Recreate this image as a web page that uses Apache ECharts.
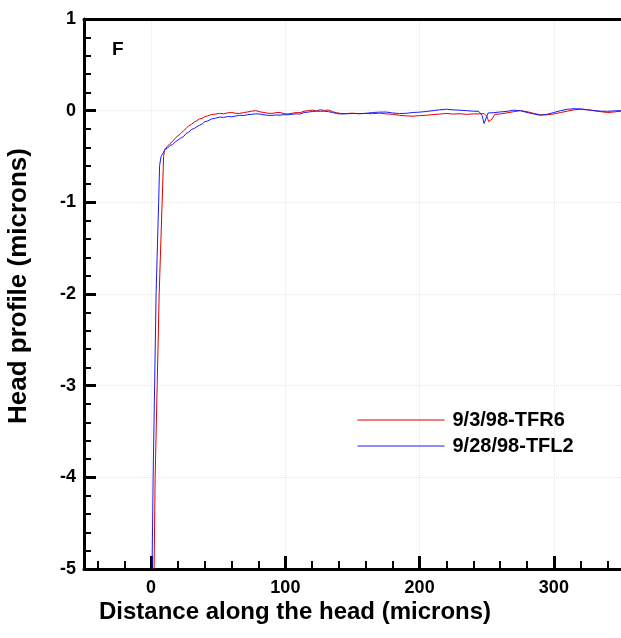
<!DOCTYPE html>
<html>
<head>
<meta charset="utf-8">
<script src="https://cdn.jsdelivr.net/npm/echarts@6/dist/echarts.min.js"></script>
<style>html,body{margin:0;padding:0;background:#fff}#c{width:621px;height:638px}</style>
</head>
<body>
<div id="c"></div>
<script>
var seriesNames = ['9/3/98-TFR6', '9/28/98-TFL2'];
var xMajorTicks = [0, 100, 200, 300];
var xMinorTicks = [-40, -20, 20, 40, 60, 80, 120, 140, 160, 180, 220, 240, 260, 280, 320, 340];
var yTicks = [-5, -4, -3, -2, -1, 0, 1];

var redX = [2.2, 3, 4.5, 6, 8.2, 9.3, 10, 11, 12, 14, 16, 18, 20, 22, 24, 26, 28, 30, 32, 34, 36, 38, 40, 42, 45, 48, 51, 54, 57, 60, 63, 66, 69, 72, 75, 78, 81, 84, 87, 90, 93, 96, 99, 102, 105, 108, 111, 114, 117, 120, 123, 126, 129, 132, 135, 138, 141, 145, 150, 155, 160, 165, 170, 175, 180, 185, 190, 195, 200, 205, 210, 215, 220, 225, 230, 235, 240, 245, 248, 250, 251.5, 252.5, 254, 256, 260, 265, 270, 275, 280, 285, 290, 295, 300, 305, 310, 315, 320, 325, 330, 335, 340, 345, 350];
var redY = [-5.0, -4.0, -3.0, -2.0, -1.0, -0.5, -0.43, -0.41, -0.39, -0.36, -0.335, -0.3, -0.275, -0.25, -0.22, -0.195, -0.165, -0.15, -0.125, -0.11, -0.09, -0.085, -0.065, -0.058, -0.042, -0.037, -0.03, -0.034, -0.024, -0.02, -0.029, -0.03, -0.02, -0.014, -0.005, 0.0, -0.012, -0.02, -0.028, -0.03, -0.022, -0.02, -0.033, -0.036, -0.028, -0.021, -0.022, -0.006, 0.0, 0.006, -0.003, 0.01, 0.003, 0.006, -0.01, -0.022, -0.03, -0.032, -0.027, -0.034, -0.03, -0.033, -0.027, -0.035, -0.04, -0.05, -0.057, -0.06, -0.054, -0.05, -0.043, -0.037, -0.03, -0.037, -0.033, -0.041, -0.035, -0.035, -0.03, -0.06, -0.12, -0.14, -0.09, -0.04, -0.036, -0.025, -0.011, 0.0, -0.011, -0.03, -0.045, -0.045, -0.036, -0.02, -0.006, 0.01, 0.016, 0.009, 0.0, -0.011, -0.02, -0.014, -0.005];

var blueX = [0.7, 1.5, 2.6, 3.7, 5.6, 6.3, 7.4, 9, 10.4, 12, 14, 16, 18, 20, 22, 24, 26, 28, 30, 32, 34, 36, 38, 40, 42, 45, 48, 51, 54, 57, 60, 63, 66, 69, 72, 75, 78, 81, 84, 87, 90, 93, 96, 99, 102, 105, 108, 111, 114, 117, 120, 123, 126, 129, 132, 135, 138, 141, 145, 150, 155, 160, 165, 170, 175, 180, 185, 190, 195, 200, 205, 210, 215, 220, 225, 230, 235, 240, 244, 246.5, 248, 249.5, 251, 255, 260, 265, 270, 275, 280, 285, 290, 295, 300, 305, 310, 315, 320, 325, 330, 335, 340, 345, 350];
var blueY = [-5.0, -4.0, -3.0, -2.0, -1.0, -0.6, -0.5, -0.46, -0.42, -0.41, -0.38, -0.37, -0.34, -0.32, -0.3, -0.285, -0.25, -0.235, -0.205, -0.195, -0.175, -0.16, -0.145, -0.12, -0.113, -0.09, -0.083, -0.07, -0.073, -0.064, -0.067, -0.059, -0.05, -0.053, -0.044, -0.04, -0.034, -0.037, -0.045, -0.051, -0.052, -0.047, -0.049, -0.044, -0.045, -0.039, -0.035, -0.037, -0.02, -0.016, -0.009, -0.005, -0.007, -0.006, -0.011, -0.02, -0.03, -0.036, -0.034, -0.031, -0.032, -0.029, -0.02, -0.016, -0.015, -0.025, -0.031, -0.029, -0.02, -0.016, -0.009, 0.0, 0.01, 0.016, 0.009, 0.005, 0.0, -0.006, -0.007, -0.05, -0.14, -0.08, -0.025, -0.022, -0.014, -0.008, 0.005, 0.0, -0.02, -0.036, -0.05, -0.039, -0.02, 0.0, 0.015, 0.021, 0.019, 0.01, 0.0, -0.006, -0.007, -0.002, 0.0];

function pairs(xs, ys) { return xs.map(function (x, i) { return [x, ys[i]]; }); }

var FONT = '"Liberation Sans", Arial, sans-serif';
var chart = echarts.init(document.getElementById('c'), null, { renderer: 'canvas' });
chart.setOption({
  animation: false,
  backgroundColor: '#fff',
  grid: { left: 84, right: 0, top: 19, bottom: 69, containLabel: false },
  xAxis: [
    {
      type: 'value', min: -50, max: 350, interval: 50, position: 'bottom',
      axisLine: { show: true, onZero: false, lineStyle: { color: '#000', width: 3 } },
      axisTick: { show: true, inside: true, length: 13, customValues: xMajorTicks, lineStyle: { color: '#000', width: 3 } },
      axisLabel: { show: true, customValues: xMajorTicks, margin: 10, color: '#000', fontSize: 18, fontWeight: 'bold', fontFamily: FONT },
      splitLine: { show: true, lineStyle: { color: '#e6e6e6', type: 'dotted', width: 1 } }
    },
    {
      type: 'value', min: -50, max: 350, interval: 10, position: 'bottom',
      axisLine: { show: false, onZero: false },
      axisTick: { show: true, inside: true, length: 8, customValues: xMinorTicks, lineStyle: { color: '#000', width: 2 } },
      axisLabel: { show: false },
      splitLine: { show: false }
    },
    {
      type: 'value', min: -50, max: 350, position: 'top',
      axisLine: { show: true, onZero: false, lineStyle: { color: '#000', width: 3 } },
      axisTick: { show: false }, axisLabel: { show: false }, splitLine: { show: false }
    }
  ],
  yAxis: [
    {
      type: 'value', min: -5, max: 1, interval: 1, position: 'left',
      axisLine: { show: true, onZero: false, lineStyle: { color: '#000', width: 3 } },
      axisTick: { show: true, inside: true, length: 12, lineStyle: { color: '#000', width: 3 } },
      minorTick: { show: true, splitNumber: 5, length: 7, lineStyle: { color: '#000', width: 2 } },
      axisLabel: { show: true, margin: 8, color: '#000', fontSize: 18, fontWeight: 'bold', fontFamily: FONT,
        formatter: function (v) { return yTicks.indexOf(v) >= 0 ? String(v) : ''; } },
      splitLine: { show: true, lineStyle: { color: '#e6e6e6', type: 'dotted', width: 1 } }
    }
  ],
  legend: {
    show: true, orient: 'vertical', left: 352, top: 405, itemWidth: 87, itemHeight: 14, itemGap: 6,
    data: seriesNames,
    itemStyle: { opacity: 0 },
    lineStyle: { width: 1 },
    textStyle: { color: '#000', fontSize: 20, fontWeight: 'bold', fontFamily: FONT, padding: [0, 0, 0, 3] }
  },
  graphic: [
    { type: 'text', left: 112, top: 40, style: { text: 'F', fill: '#000', font: 'bold 19px ' + FONT } },
    { type: 'text', x: 295, y: 612, style: { text: 'Distance along the head (microns)', fill: '#000', font: 'bold 24px ' + FONT, textAlign: 'center', textVerticalAlign: 'middle' } },
    { type: 'text', x: 19, y: 286, rotation: Math.PI / 2, style: { text: 'Head profile (microns)', fill: '#000', font: 'bold 26px ' + FONT, textAlign: 'center', textVerticalAlign: 'middle' } }
  ],
  series: [
    { name: seriesNames[0], type: 'line', xAxisIndex: 0, yAxisIndex: 0, symbol: 'none', showSymbol: false,
      lineStyle: { color: '#e00000', width: 1 }, itemStyle: { color: '#e00000' }, data: pairs(redX, redY) },
    { name: seriesNames[1], type: 'line', xAxisIndex: 0, yAxisIndex: 0, symbol: 'none', showSymbol: false,
      lineStyle: { color: '#1a1aff', width: 1 }, itemStyle: { color: '#1a1aff' }, data: pairs(blueX, blueY) }
  ]
});
</script>
</body>
</html>
